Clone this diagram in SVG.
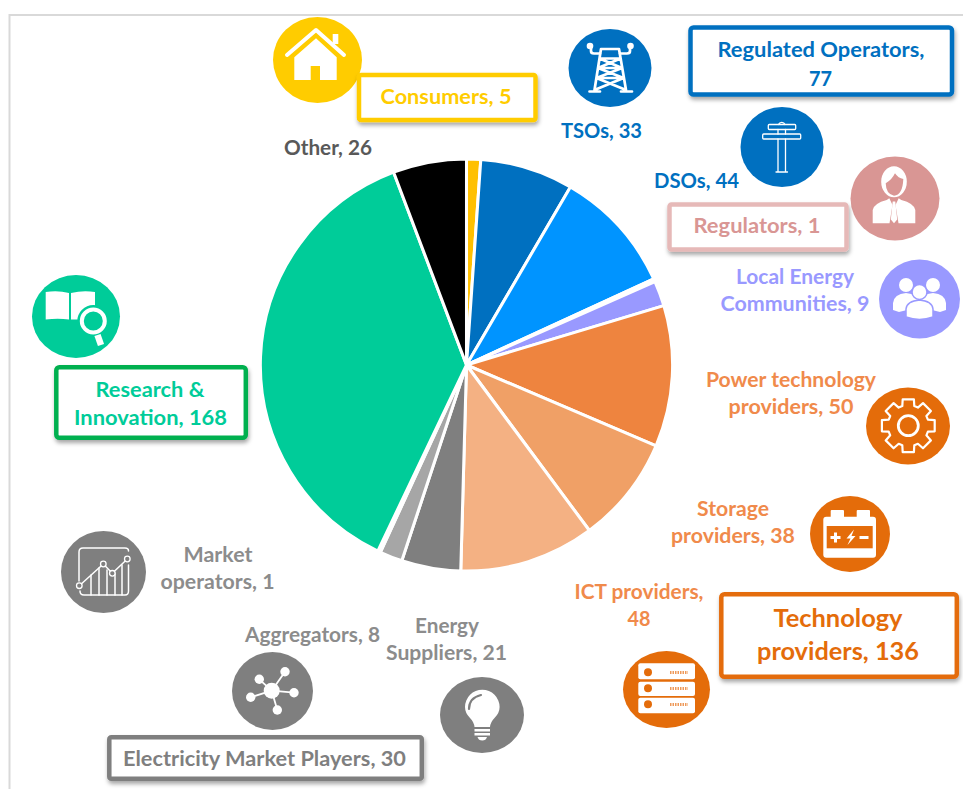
<svg xmlns="http://www.w3.org/2000/svg" width="963" height="789" viewBox="0 0 963 789">
<style>
text{font-family:"Lato","Liberation Sans",sans-serif;font-weight:700;font-size:20px;text-anchor:middle}
.slice{stroke:#fff;stroke-width:3;stroke-linejoin:round}
.box{fill:#fff;stroke-width:4.5}
.w{fill:#fff}
.ol{fill:none;stroke:#fff;stroke-linecap:round;stroke-linejoin:round}
.blue{fill:#0070C0}.orange{fill:#F08A4B}.grey{fill:#8C8C8C}
</style>
<defs>
<filter id="sh" x="-10%" y="-20%" width="120%" height="150%"><feDropShadow dx="1" dy="3" stdDeviation="2" flood-color="#000" flood-opacity=".35"/></filter>
</defs>
<rect width="963" height="789" fill="#fff"/>
<path d="M9.500 789V15H963" fill="none" stroke="#D9D9D9" stroke-width="2"/>

<g id="pie" transform="translate(466.500 365) scale(1.008) translate(-466.500 -365)">
<path class="slice" fill="#FFC000" d="M466.500 365V160.500A204.500 204.500 0 0 1 480.700 161Z"/>
<path class="slice" fill="#0070C0" d="M466.500 365L480.700 161A204.500 204.500 0 0 1 569.600 188.400Z"/>
<path class="slice" fill="#0094FF" d="M466.500 365L569.600 188.400A204.500 204.500 0 0 1 652.300 279.600Z"/>
<path class="slice" fill="#fff" d="M466.500 365L652.300 279.600A204.500 204.500 0 0 1 653.500 282.200Z"/>
<path class="slice" fill="#9999FF" d="M466.500 365L653.500 282.200A204.500 204.500 0 0 1 662.300 306.100Z"/>
<path class="slice" fill="#EE843F" d="M466.500 365L662.300 306.100A204.500 204.500 0 0 1 654.600 445.200Z"/>
<path class="slice" fill="#F0A066" d="M466.500 365L654.600 445.200A204.500 204.500 0 0 1 588.400 529.200Z"/>
<path class="slice" fill="#F4B183" d="M466.500 365L588.400 529.200A204.500 204.500 0 0 1 460.800 569.400Z"/>
<path class="slice" fill="#7F7F7F" d="M466.500 365L460.800 569.400A204.500 204.500 0 0 1 402.300 559.200Z"/>
<path class="slice" fill="#A6A6A6" d="M466.500 365L402.300 559.200A204.500 204.500 0 0 1 381 550.800Z"/>
<path class="slice" fill="#fff" d="M466.500 365L381 550.800A204.500 204.500 0 0 1 378.500 549.600Z"/>
<path class="slice" fill="#00CC99" d="M466.500 365L378.500 549.600A204.500 204.500 0 0 1 394.200 173.700Z"/>
<path class="slice" fill="#000" d="M466.500 365L394.200 173.700A204.500 204.500 0 0 1 466.500 160.500Z"/>
</g>

<g id="consumers">
<ellipse cx="317.500" cy="60" rx="44.500" ry="43" fill="#FFCC00"/>
<polyline class="ol" stroke-width="4" points="287,55 316,30 344,55"/>
<rect class="w" x="332.700" y="34" width="5.600" height="10"/>
<path class="w" d="M294.300 57.300L316 38.300L336.700 57.300V80H320V66H310.700V80H294.300Z"/>
<rect class="box" x="359" y="75" width="176.500" height="45" rx="2" stroke="#FFCC00" filter="url(#sh)"/>
<text x="446" y="104" fill="#FFCC00" textLength="131" lengthAdjust="spacingAndGlyphs">Consumers, 5</text>
</g>

<g id="tsos">
<ellipse cx="610" cy="68" rx="41.500" ry="39" fill="#0070C0"/>
<g class="ol" stroke-width="2.700">
<path d="M601 49L594.500 90M619 49L626 90M601 49H619M599.500 58.500H620.500M598 68H622M596.500 78H623.500M599.500 58.500L622 68M620.500 58.500L598 68M598 68L623.500 78M622 68L596.500 78M596.500 78L626 90M623.500 78L594.500 90M589.500 91.500H600M621 91.500H632"/>
<path d="M591 47V51Q591 53.500 594 53.500H600M630 47V51Q630 53.500 627 53.500H620"/>
</g>
<circle class="w" cx="590" cy="46" r="3.300"/><circle class="w" cx="630.500" cy="46" r="3.300"/>
<text x="601.500" y="138" fill="#0070C0" textLength="81" lengthAdjust="spacingAndGlyphs">TSOs, 33</text>
</g>

<g id="regulated-operators">
<rect class="box" x="690.500" y="27.500" width="261.500" height="67" rx="3" stroke="#0070C0" filter="url(#sh)"/>
<text x="821" y="57" fill="#0070C0" textLength="207" lengthAdjust="spacingAndGlyphs">Regulated Operators,</text>
<text x="820.500" y="86" fill="#0070C0" textLength="23" lengthAdjust="spacingAndGlyphs">77</text>
</g>

<g id="dsos">
<ellipse cx="782" cy="147" rx="41.500" ry="40" fill="#0070C0"/>
<g class="ol" stroke-width="1.300">
<rect x="768.300" y="124.500" width="27.400" height="5" rx="1"/>
<rect x="762.700" y="134" width="38" height="5" rx="1"/>
<path d="M778 139V171M785.500 139V171M776 172H787.500M778 129.500V134M785.500 129.500V134M778.500 124.500A3.500 3.500 0 0 1 785 124.500"/>
</g>
<text x="696.500" y="188" fill="#0070C0" textLength="85" lengthAdjust="spacingAndGlyphs">DSOs, 44</text>
</g>

<g id="regulators">
<ellipse cx="895" cy="198.500" rx="44.500" ry="42" fill="#D99694"/>
<path class="w" d="M872.700 223.300V210Q874 203.300 886.700 200L889.300 198.300L892.500 205L889.500 223.300ZM915.300 223.300V210Q914 203.300 901.300 200L898.700 198.300L895.500 205L898.500 223.300Z"/>
<path class="w" d="M892.700 201.500H895.300L895.700 205.500L897.200 219.500L894 223.300L890.800 219.500L892.300 205.500Z"/>
<ellipse class="w" cx="894" cy="181.700" rx="12.800" ry="15.500"/>
<path fill="#D99694" d="M885.700 183.300Q891.700 180 895 173.300Q898.300 178.300 903.300 179Q902.700 195 894 195.700Q886 194.300 885.700 183.300Z"/>
<rect class="box" x="669.500" y="204.500" width="177" height="45" rx="2" stroke="#E6B9B8" filter="url(#sh)"/>
<text x="757" y="233" fill="#D99694" textLength="127" lengthAdjust="spacingAndGlyphs">Regulators, 1</text>
</g>

<g id="local-energy-communities">
<ellipse cx="919.500" cy="299" rx="40.500" ry="39.500" fill="#9999FF"/>
<g class="w">
<circle cx="906" cy="285" r="7"/><circle cx="933" cy="285" r="7"/>
<path d="M893 310V303Q894 294 906 293Q918 294 919 303V307L899 312Z"/>
<path d="M946 310V303Q945 294 933 293Q921 294 920 303V307L940 312Z"/>
</g>
<circle class="w" cx="919.500" cy="292" r="7.500" stroke="#9999FF" stroke-width="1.500"/>
<path class="w" stroke="#9999FF" stroke-width="1.500" d="M906 317V309Q907 301 919.500 300Q932 301 933 309V317Q919.500 322 906 317Z"/>
<text x="795" y="284" fill="#9999FF" textLength="118" lengthAdjust="spacingAndGlyphs">Local Energy</text>
<text x="795" y="311" fill="#9999FF" textLength="149" lengthAdjust="spacingAndGlyphs">Communities, 9</text>
</g>

<g id="power-technology-providers">
<ellipse cx="908" cy="426" rx="42" ry="38.500" fill="#E46C0A"/>
<g transform="translate(908.300 425.700)" class="ol" stroke-width="2.200">
<path d="M19.600-6L26.400-5.600V5.600L19.600 6L18.100 9.600L22.600 14.700L14.700 22.600L9.600 18.100L6 19.600L5.600 26.400H-5.600L-6 19.600L-9.600 18.100L-14.700 22.600L-22.600 14.700L-18.100 9.600L-19.600 6L-26.400 5.600V-5.600L-19.600-6L-18.100-9.600L-22.600-14.700L-14.700-22.600L-9.600-18.100L-6-19.600L-5.600-26.400H5.600L6-19.600L9.600-18.100L14.700-22.600L22.600-14.700L18.100-9.600Z"/>
<circle r="10" stroke-width="2.800"/>
</g>
<text class="orange" x="791" y="387" textLength="170" lengthAdjust="spacingAndGlyphs">Power technology</text>
<text class="orange" x="791" y="414" textLength="125" lengthAdjust="spacingAndGlyphs">providers, 50</text>
</g>

<g id="storage-providers">
<ellipse cx="850" cy="534" rx="40" ry="38" fill="#E46C0A"/>
<rect class="w" x="830.700" y="510" width="13.300" height="9" rx="1"/>
<rect class="w" x="856.700" y="510" width="13.300" height="9" rx="1"/>
<rect class="w" x="823.300" y="516.700" width="52.700" height="41" rx="3"/>
<rect x="826.700" y="526" width="46" height="22.300" fill="#E46C0A"/>
<path class="w" d="M830.500 536H834V532.500H837V536H840.500V539H837V542.500H834V539H830.500ZM854 529.500L846.500 538.500H850.500L847.500 545L855.500 536H851.500ZM859.500 536H868.500V539H859.500Z"/>
<text class="orange" x="733" y="516" textLength="72" lengthAdjust="spacingAndGlyphs">Storage</text>
<text class="orange" x="733" y="543" textLength="124" lengthAdjust="spacingAndGlyphs">providers, 38</text>
</g>

<g id="ict-providers">
<ellipse cx="666.500" cy="689.500" rx="43.500" ry="38.500" fill="#E46C0A"/>
<rect class="w" x="638.300" y="663.300" width="56.700" height="16" rx="2"/>
<rect class="w" x="638.300" y="681.700" width="56.700" height="14.300" rx="2"/>
<rect class="w" x="638.300" y="697.700" width="56.700" height="15.600" rx="2"/>
<g fill="#E46C0A"><circle cx="648" cy="672.300" r="4"/><circle cx="648" cy="688.300" r="4"/><circle cx="648" cy="704.300" r="4"/></g>
<path d="M670 672.500H688M670 688.500H688M670 704.500H688" stroke="#EE9A5A" stroke-width="3" stroke-dasharray="1.500 1" fill="none"/>
<text class="orange" x="639" y="599" textLength="129" lengthAdjust="spacingAndGlyphs">ICT providers,</text>
<text class="orange" x="639" y="626" textLength="23" lengthAdjust="spacingAndGlyphs">48</text>
</g>

<g id="technology-providers">
<rect class="box" x="721.300" y="594.300" width="235.500" height="82.500" rx="3" stroke="#E46C0A" filter="url(#sh)"/>
<text x="838" y="627" fill="#E46C0A" style="font-size:25px" textLength="129" lengthAdjust="spacingAndGlyphs">Technology</text>
<text x="838" y="660" fill="#E46C0A" style="font-size:25px" textLength="162" lengthAdjust="spacingAndGlyphs">providers, 136</text>
</g>

<g id="market-operators">
<ellipse cx="103.500" cy="572" rx="42.500" ry="41" fill="#7F7F7F"/>
<g class="ol" stroke-width="1.500">
<path d="M79 581V552Q79 548 83 548H125Q128.500 548 128.500 551M128.500 565V591Q128.500 595 125 595H84Q80 595 80 591"/>
<path d="M91 595V575M99 595V568M107 595V570M115 595V573M122 595V565"/>
<path d="M79.300 585.700L103.300 564L112.300 573.300L127.300 559"/>
</g>
<g fill="#7F7F7F" stroke="#fff" stroke-width="1.300">
<circle cx="79.300" cy="585.700" r="2.800"/><circle cx="103.300" cy="564" r="2.800"/><circle cx="112.300" cy="573.300" r="2.800"/><circle cx="127.300" cy="559" r="2.800"/>
</g>
<text class="grey" x="218" y="562" textLength="69" lengthAdjust="spacingAndGlyphs">Market</text>
<text class="grey" x="217.500" y="589" textLength="114" lengthAdjust="spacingAndGlyphs">operators, 1</text>
</g>

<g id="aggregators">
<ellipse cx="272.500" cy="691" rx="40.500" ry="39" fill="#7F7F7F"/>
<path d="M271.700 690.700L285 671.700M271.700 690.700L259.300 679.300M271.700 690.700L294 692.700M271.700 690.700L277.300 710M271.700 690.700L250.700 697.300" stroke="#fff" stroke-width="1.800" fill="none"/>
<g class="w"><circle cx="271.700" cy="690.700" r="8"/><circle cx="285" cy="671.700" r="4.700"/><circle cx="259.300" cy="679.300" r="4.700"/><circle cx="294" cy="692.700" r="4.700"/><circle cx="277.300" cy="710" r="4.700"/><circle cx="250.700" cy="697.300" r="4.700"/></g>
<text class="grey" x="312.500" y="642" textLength="135" lengthAdjust="spacingAndGlyphs">Aggregators, 8</text>
</g>

<g id="energy-suppliers">
<ellipse cx="482" cy="715" rx="42" ry="38" fill="#7F7F7F"/>
<path class="w" d="M474.500 727Q474 722 470 718Q465 713 465 707A17.300 17.300 0 0 1 499.600 707Q499.600 713 494.500 718Q490.500 722 490 727Z"/>
<path d="M469 709Q469 698 481 695" fill="none" stroke="#7F7F7F" stroke-width="2.200" stroke-linecap="round"/>
<rect class="w" x="474.500" y="729" width="15.500" height="2.500"/>
<rect class="w" x="474.500" y="733" width="15.500" height="2.500"/>
<path class="w" d="M477.500 737H487Q486 740.500 482.300 740.500Q478.500 740.500 477.500 737Z"/>
<text class="grey" x="447" y="633" textLength="64" lengthAdjust="spacingAndGlyphs">Energy</text>
<text class="grey" x="446.500" y="660" textLength="121" lengthAdjust="spacingAndGlyphs">Suppliers, 21</text>
</g>

<g id="electricity-market-players">
<rect class="box" x="109.300" y="737.300" width="312.500" height="41.500" rx="2" stroke="#7F7F7F" filter="url(#sh)"/>
<text x="264.500" y="766" fill="#7F7F7F" textLength="283" lengthAdjust="spacingAndGlyphs">Electricity Market Players, 30</text>
</g>

<g id="research-innovation">
<ellipse cx="76" cy="316.500" rx="44" ry="41.500" fill="#00CC99"/>
<path class="w" d="M45.700 292Q58 290 69 293V319.500Q58 318 45.700 319.500ZM71 293Q83 290 95 292V308H71Z"/>
<path class="w" d="M71 305H95V319.500H71Z"/>
<circle cx="93.300" cy="321" r="16" fill="#00CC99"/>
<circle cx="93.300" cy="321" r="11.500" fill="none" stroke="#fff" stroke-width="4"/>
<path d="M97.500 335L101 345" stroke="#fff" stroke-width="6.500" fill="none"/>
<rect class="box" x="56.300" y="367.300" width="189.500" height="70.500" rx="3" stroke="#00B050" filter="url(#sh)"/>
<text x="150" y="397" fill="#00CC99" textLength="109" lengthAdjust="spacingAndGlyphs">Research &amp;</text>
<text x="150.500" y="425" fill="#00CC99" textLength="153" lengthAdjust="spacingAndGlyphs">Innovation, 168</text>
</g>

<g id="other">
<text x="328" y="155" fill="#595959" textLength="88" lengthAdjust="spacingAndGlyphs">Other, 26</text>
</g>
</svg>
